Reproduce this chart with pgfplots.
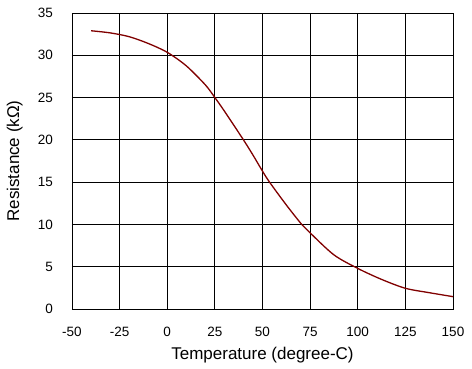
\documentclass[border=0pt]{standalone}
\usepackage{pgfplots}
\pgfplotsset{compat=1.18}
\usepackage{fontspec}
\setmainfont{Liberation Sans}
\definecolor{curve}{RGB}{128,0,0}
\begin{document}
\begin{tikzpicture}
\begin{axis}[
  scale only axis,
  width=381pt, height=296pt,
  xmin=-50, xmax=150, ymin=0, ymax=35,
  xtick={-50,-25,...,150}, ytick={0,5,...,35},
  grid=major,
  major grid style={black, line width=0.8pt},
  axis line style={black, line width=0.8pt},
  tick style={draw=none},
  /pgf/number format/assume math mode=true,
  ticklabel style={font=\fontsize{13.5}{15}\selectfont, text=black},
  xticklabel style={yshift=-15pt},
  yticklabel style={xshift=-15.5pt},
  xlabel={Temperature (degree-C)},
  ylabel={Resistance (kΩ)},
  label style={font=\fontsize{17}{19}\selectfont},
  xlabel style={at={(axis description cs:0.5,-0.1723)}, anchor=base},
  ylabel style={at={(axis description cs:-0.139,0.5)}, anchor=base},
]
\addplot[curve, line width=1.3pt, smooth, tension=0.5] coordinates {
(-40,32.9) (-30,32.65) (-20,32.2) (-10,31.4) (0,30.35) (10,28.75) (20,26.5)
(25,25.0) (30,23.4) (40,20.0) (45,18.2) (50,16.3) (53.7,15.0) (62.5,12.3)
(70.6,10.0) (75,9.0) (87.5,6.4) (100,4.8) (112.5,3.5) (125,2.45) (137.5,1.93) (150,1.46)
};
\coordinate (O) at (axis cs:-50,0);
\end{axis}
\path (O) ++(-72pt,-60pt) rectangle ++(472pt,369pt);
\end{tikzpicture}
\end{document}
